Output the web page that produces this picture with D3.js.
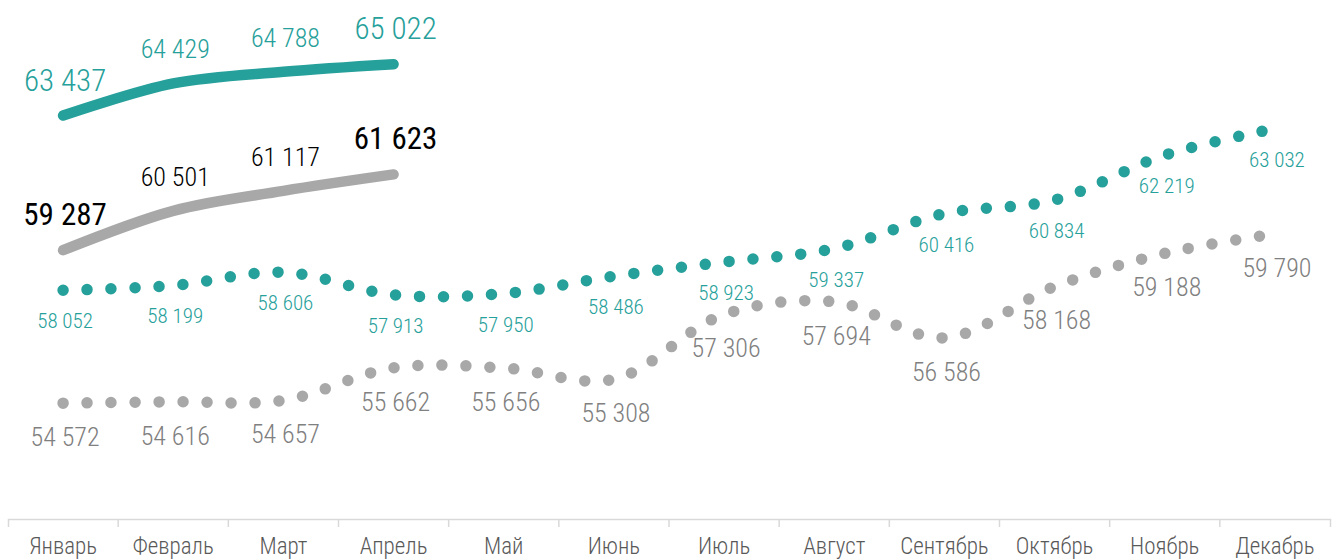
<!DOCTYPE html>
<html><head><meta charset="utf-8">
<script src="https://cdn.jsdelivr.net/npm/d3@7"></script>
<style>body{margin:0;background:#fff}svg{display:block}</style>
</head><body>
<svg id="c" width="1336" height="560"></svg>
<script>
const months = ["Январь","Февраль","Март","Апрель","Май","Июнь","Июль","Август","Сентябрь","Октябрь","Ноябрь","Декабрь"];
const solidTeal = [63437, 64429, 64788, 65022];
const solidGray = [59287, 60501, 61117, 61623];
const dotTeal = [58052, 58199, 58606, 57913, 57950, 58486, 58923, 59337, 60416, 60834, 62219, 63032];
const dotGray = [54572, 54616, 54657, 55662, 55656, 55308, 57306, 57694, 56586, 58168, 59188, 59790];

const TEAL = "#26A09A", GRAY = "#A8A8A8";
const FONT = "'Liberation Sans Narrow','Arial Narrow','Roboto Condensed','DejaVu Sans Condensed',sans-serif";
const fmt = v => d3.format(",")(v).replace(/,/g, " ");

const svg = d3.select("#c");
const x = d3.scaleBand().domain(months).range([8, 1330]);
const y = d3.scaleLinear().domain([51000, 67000]).range([519, 0]);
const cx = i => x(months[i]) + x.bandwidth() / 2;

// axis
const ax = svg.append("g").attr("transform", "translate(0,519)")
  .call(d3.axisBottom(x).tickSizeInner(0).tickSizeOuter(8).tickPadding(19));
ax.select(".domain").attr("stroke", "#D9D9D9").attr("stroke-width", 1.5);
ax.selectAll(".tick text").attr("font-family", FONT).attr("font-size", 23)
  .attr("font-weight", 300).attr("fill", "#595959");
ax.selectAll(".sep").data(months.slice(1)).enter().append("line")
  .attr("x1", d => x(d)).attr("x2", d => x(d)).attr("y1", 0).attr("y2", 8)
  .attr("stroke", "#D9D9D9").attr("stroke-width", 1.5);

const line = d3.line().x((d, i) => cx(i)).y(d => y(d)).curve(d3.curveCatmullRom.alpha(0.5));

function series(data, color, width, dotted) {
  const p = svg.append("path").datum(data).attr("d", line)
    .attr("fill", "none").attr("stroke", color).attr("stroke-width", width)
    .attr("stroke-linecap", "round").attr("stroke-linejoin", "round");
  if (dotted) p.attr("stroke-dasharray", "0 24");
}
series(dotGray, GRAY, 11.5, true);
series(dotTeal, TEAL, 11.5, true);
series(solidGray, GRAY, 10.5, false);
series(solidTeal, TEAL, 10.5, false);

function labels(data, color, sizeFn, dy, weight) {
  svg.append("g").selectAll("text").data(data).enter().append("text")
    .attr("x", (d, i) => cx(i) + 2).attr("y", d => y(d) + dy)
    .attr("text-anchor", "middle").attr("font-family", FONT)
    .attr("font-weight", weight)
    .attr("font-size", sizeFn).attr("fill", color).text(d => fmt(d));
}
const edge = (n) => (d, i) => (i === 0 || i === n - 1) ? 31 : 26;
labels(solidTeal, TEAL, edge(solidTeal.length), -25, 300);
labels(solidGray, "#000", edge(solidGray.length), -25, (d, i) => (i === 0 || i === 3) ? 400 : 300);
labels(dotTeal, TEAL, () => 21, 38, 300);
labels(dotGray, "#808080", () => 26, 43, 300);
</script>
</body></html>
